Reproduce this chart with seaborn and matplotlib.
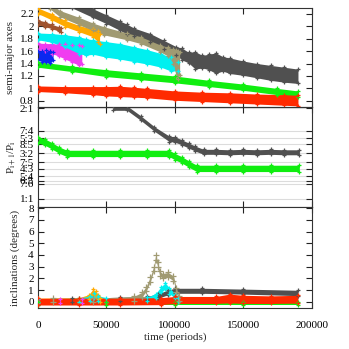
import numpy as np
import pandas as pd
import matplotlib
matplotlib.use("Agg")
import matplotlib.pyplot as plt
import seaborn as sns

# =========================
# data
# each series: time, lower edge, upper edge of the scattered band
# =========================
# --- semi-major axes ---
a_red_t = [0, 20000, 40000, 50000, 60000, 70000, 80000, 100000, 120000, 140000, 160000, 180000, 190000]
a_red_lo = [0.95, 0.93, 0.90, 0.88, 0.87, 0.86, 0.85, 0.81, 0.79, 0.77, 0.75, 0.73, 0.72]
a_red_hi = [1.04, 1.03, 1.03, 1.03, 1.035, 1.02, 1.00, 0.96, 0.94, 0.93, 0.91, 0.90, 0.89]

a_green_t = [0, 25000, 50000, 75000, 100000, 125000, 150000, 175000, 190000]
a_green_lo = [1.34, 1.27, 1.19, 1.14, 1.09, 1.03, 0.97, 0.90, 0.86]
a_green_hi = [1.43, 1.36, 1.30, 1.25, 1.20, 1.13, 1.07, 1.00, 0.96]

a_blue_t = [0, 3000, 6000, 9000, 11000]
a_blue_lo = [1.45, 1.43, 1.42, 1.41, 1.45]
a_blue_hi = [1.60, 1.60, 1.61, 1.60, 1.58]

a_magenta_t = [0, 5000, 10000, 15000, 20000, 25000, 30000, 32000]
a_magenta_lo = [1.62, 1.60, 1.56, 1.52, 1.47, 1.42, 1.37, 1.40]
a_magenta_hi = [1.73, 1.72, 1.72, 1.71, 1.71, 1.70, 1.70, 1.68]

a_cyan_t = [0, 10000, 20000, 30000, 35000, 40000, 50000, 60000, 70000, 80000, 90000, 97000, 102000]
a_cyan_lo = [1.78, 1.74, 1.66, 1.56, 1.53, 1.55, 1.50, 1.47, 1.43, 1.39, 1.34, 1.28, 1.28]
a_cyan_hi = [1.89, 1.88, 1.86, 1.83, 1.80, 1.78, 1.75, 1.72, 1.67, 1.62, 1.56, 1.50, 1.42]

a_orange_t = [0, 10000, 20000, 30000, 40000, 44000, 45000]
a_orange_lo = [2.20, 2.10, 1.99, 1.91, 1.83, 1.74, 1.72]
a_orange_hi = [2.29, 2.20, 2.09, 2.01, 1.95, 1.92, 1.88]

a_brown_t = [0, 5000, 10000, 15000, 17000]
a_brown_lo = [2.02, 1.99, 1.96, 1.92, 1.91]
a_brown_hi = [2.10, 2.07, 2.03, 1.99, 1.97]

a_khaki_t = [9000, 16000, 30000, 40000, 48000, 65000, 75000, 89000, 95000, 99000, 101000, 102500, 103500]
a_khaki_lo = [2.27, 2.15, 2.02, 1.93, 1.86, 1.78, 1.72, 1.59, 1.52, 1.40, 1.18, 1.15, 1.22]
a_khaki_hi = [2.36, 2.25, 2.14, 2.05, 1.99, 1.89, 1.83, 1.70, 1.66, 1.63, 1.62, 1.60, 1.58]

a_gray_t = [25000, 40000, 50000, 60000, 65000, 70000, 82000, 92000, 101000, 105000, 110000, 115000,
            120000, 125000, 130000, 135000, 140000, 150000, 160000, 170000, 180000, 190000]
a_gray_lo = [2.29, 2.14, 2.04, 1.93, 1.87, 1.84, 1.74, 1.63, 1.54, 1.46, 1.41, 1.31,
             1.33, 1.30, 1.24, 1.28, 1.24, 1.21, 1.17, 1.13, 1.10, 1.08]
a_gray_hi = [2.43, 2.28, 2.18, 2.08, 2.03, 1.97, 1.88, 1.77, 1.67, 1.65, 1.58, 1.59,
             1.53, 1.55, 1.57, 1.51, 1.49, 1.44, 1.40, 1.37, 1.34, 1.31]

# --- period ratios ---
r_gray_t = [55000, 65000, 75000, 85000, 96000, 100000, 105000, 110000, 115000, 121000,
            130000, 140000, 150000, 160000, 170000, 180000, 191000]
r_gray_lo = [1.975, 1.975, 1.865, 1.745, 1.63, 1.625, 1.595, 1.56, 1.525, 1.49,
             1.49, 1.485, 1.49, 1.485, 1.49, 1.485, 1.485]
r_gray_hi = [2.025, 2.025, 1.915, 1.795, 1.69, 1.685, 1.65, 1.615, 1.58, 1.545,
             1.545, 1.54, 1.545, 1.54, 1.545, 1.54, 1.54]

r_green_t = [0, 5000, 10000, 15000, 21000, 40000, 60000, 80000, 96000, 100000, 105000, 110000,
             116000, 130000, 150000, 170000, 191000]
r_green_lo = [1.615, 1.59, 1.55, 1.505, 1.465, 1.465, 1.465, 1.465, 1.465, 1.43, 1.395, 1.35,
              1.30, 1.30, 1.30, 1.30, 1.30]
r_green_hi = [1.685, 1.66, 1.62, 1.575, 1.535, 1.535, 1.535, 1.535, 1.535, 1.50, 1.465, 1.42,
              1.37, 1.37, 1.37, 1.37, 1.37]

ratio_ticks = [2.0, 7 / 4, 5 / 3, 8 / 5, 3 / 2, 7 / 5, 4 / 3, 5 / 4, 6 / 5, 7 / 6, 1.0]
ratio_labels = ["2:1", "7:4", "5:3", "8:5", "3:2", "7:5", "4:3", "5:4", "6:5", "7:6", "1:1"]

# --- inclinations ---
i_red_t = [0, 30000, 60000, 90000, 100000, 130000, 140000, 150000, 170000, 190000]
i_red_lo = [-0.28, -0.28, -0.28, -0.25, -0.15, -0.15, -0.10, -0.15, -0.15, -0.12]
i_red_hi = [0.30, 0.30, 0.30, 0.35, 0.45, 0.45, 0.65, 0.55, 0.50, 0.55]

i_green_t = [0, 50000, 100000, 150000, 190000]
i_green_lo = [-0.32, -0.32, -0.32, -0.32, -0.32]
i_green_hi = [0.0, 0.0, 0.0, 0.0, 0.0]

i_gray_t = [25000, 60000, 80000, 88000, 95000, 100000, 120000, 150000, 190000]
i_gray_lo = [0.0, 0.1, 0.15, 0.3, 0.6, 0.72, 0.72, 0.65, 0.52]
i_gray_hi = [0.3, 0.38, 0.45, 0.7, 1.0, 1.15, 1.15, 1.08, 0.98]

i_khaki_t = [11000, 40000, 70000, 76000, 79000, 82000, 84500, 86000, 87500, 89000, 91000, 95000,
             99000, 101000, 103000]
i_khaki_lo = [0.0, 0.0, 0.1, 0.4, 0.9, 1.7, 2.6, 3.6, 3.0, 2.2, 2.0, 2.1, 1.8, 0.8, 0.1]
i_khaki_hi = [0.3, 0.3, 0.45, 0.8, 1.3, 2.1, 3.0, 4.0, 3.4, 2.6, 2.4, 2.5, 2.2, 1.2, 0.5]

i_cyan_t = [0, 30000, 38000, 41000, 44000, 50000, 80000, 86000, 90000, 93000, 96000, 100000, 102000]
i_cyan_lo = [0.0, 0.0, 0.1, 0.3, 0.1, 0.0, 0.05, 0.3, 0.8, 1.1, 0.7, 0.3, 0.0]
i_cyan_hi = [0.25, 0.3, 0.5, 0.75, 0.5, 0.35, 0.4, 0.7, 1.3, 1.6, 1.2, 0.7, 0.35]

i_orange_t = [0, 30000, 37000, 40000, 42000, 44000, 45000]
i_orange_lo = [0.0, 0.0, 0.2, 0.6, 0.5, 0.2, 0.0]
i_orange_hi = [0.3, 0.35, 0.6, 1.05, 0.95, 0.6, 0.35]

i_magenta_t = [0, 16000, 32000]
i_magenta_lo = [-0.1, -0.1, -0.1]
i_magenta_hi = [0.2, 0.2, 0.2]

time_ticks = [0, 50000, 100000, 150000, 200000]

# =========================
# style
# =========================
c_red = "#ff2a00"
c_green = "#10ee10"
c_blue = "#0a28f0"
c_magenta = "#f03cf0"
c_cyan = "#00f0f0"
c_orange = "#ffaa00"
c_brown = "#a0522d"
c_khaki = "#a09a72"
c_gray = "#505050"

sns.set_style("ticks")
plt.rcParams["font.family"] = ["Liberation Serif", "DejaVu Serif"]
plt.rcParams["mathtext.fontset"] = "stix"
plt.rcParams["font.size"] = 8


def band(ax, t, lo, hi, color, ms=12):
    # filled band between lower and upper edge, '+' marks give the ragged edge
    df = pd.DataFrame({"t": list(t) + list(t), "v": list(lo) + list(hi)})
    sns.lineplot(data=df, x="t", y="v", ax=ax, color=color, linewidth=0,
                 errorbar=("pi", 100), err_kws={"alpha": 1, "linewidth": 0})
    sns.scatterplot(data=df, x="t", y="v", ax=ax, color=color, marker="+",
                    s=ms, linewidth=0.9, zorder=3)


fig = plt.figure(figsize=(3.49, 3.49), dpi=100)
left, width = 0.109, 0.784
ax1 = fig.add_axes([left, 0.693, width, 0.284])
ax2 = fig.add_axes([left, 0.407, width, 0.286])
ax3 = fig.add_axes([left, 0.117, width, 0.290])

# top: semi-major axes
band(ax1, a_gray_t, a_gray_lo, a_gray_hi, c_gray)
band(ax1, a_orange_t, a_orange_lo, a_orange_hi, c_orange)
band(ax1, a_brown_t, a_brown_lo, a_brown_hi, c_brown)
band(ax1, a_magenta_t, a_magenta_lo, a_magenta_hi, c_magenta)
band(ax1, a_blue_t, a_blue_lo, a_blue_hi, c_blue)
band(ax1, a_cyan_t, a_cyan_lo, a_cyan_hi, c_cyan)
band(ax1, a_khaki_t, a_khaki_lo, a_khaki_hi, c_khaki)
band(ax1, a_green_t, a_green_lo, a_green_hi, c_green)
band(ax1, a_red_t, a_red_lo, a_red_hi, c_red)
ax1.set_ylim(0.7, 2.29)
ax1.set_yticks([0.8, 1.0, 1.2, 1.4, 1.6, 1.8, 2.0, 2.2])
ax1.set_yticklabels(["0.8", "1", "1.2", "1.4", "1.6", "1.8", "2", "2.2"])
ax1.set_ylabel("semi-major axes")

# middle: period ratios
for r in ratio_ticks:
    ax2.axhline(r, color="#dcdcdc", linewidth=0.8, zorder=0)
band(ax2, r_gray_t, r_gray_lo, r_gray_hi, c_gray, ms=10)
band(ax2, r_green_t, r_green_lo, r_green_hi, c_green, ms=10)
ax2.set_ylim(0.91, 2.01)
ax2.set_yticks(ratio_ticks)
ax2.set_yticklabels(ratio_labels)
ax2.set_ylabel(r"P$_{\rm i+1}$/P$_{\rm i}$")

# bottom: inclinations
band(ax3, i_gray_t, i_gray_lo, i_gray_hi, c_gray)
band(ax3, i_orange_t, i_orange_lo, i_orange_hi, c_orange)
band(ax3, i_magenta_t, i_magenta_lo, i_magenta_hi, c_magenta)
band(ax3, i_cyan_t, i_cyan_lo, i_cyan_hi, c_cyan)
band(ax3, i_khaki_t, i_khaki_lo, i_khaki_hi, c_khaki, ms=22)
band(ax3, i_green_t, i_green_lo, i_green_hi, c_green)
band(ax3, i_red_t, i_red_lo, i_red_hi, c_red)
ax3.set_ylim(-0.55, 8.1)
ax3.set_yticks(range(0, 9))
ax3.set_ylabel("inclinations (degrees)")
ax3.set_xlabel("time (periods)", labelpad=2)

for ax in (ax1, ax2, ax3):
    ax.set_xlim(0, 200000)
    ax.set_xticks(time_ticks)
    ax.tick_params(direction="in", top=True, right=True, length=4, width=0.8,
                   labelsize=8, pad=3, colors="#222222", labelcolor="black")
    for s in ax.spines.values():
        s.set_linewidth(0.8)
        s.set_color("#333333")
for ax in (ax1, ax2):
    ax.set_xlabel("")
    ax.tick_params(labelbottom=False)
ax3.set_xticklabels([str(v) for v in time_ticks])
ax3.tick_params(axis="x", pad=9)

ax1.yaxis.set_label_coords(-0.085, 0.5)
ax2.yaxis.set_label_coords(-0.072, 0.5)
ax3.yaxis.set_label_coords(-0.066, 0.5)

fig.savefig("out.png", dpi=100)
